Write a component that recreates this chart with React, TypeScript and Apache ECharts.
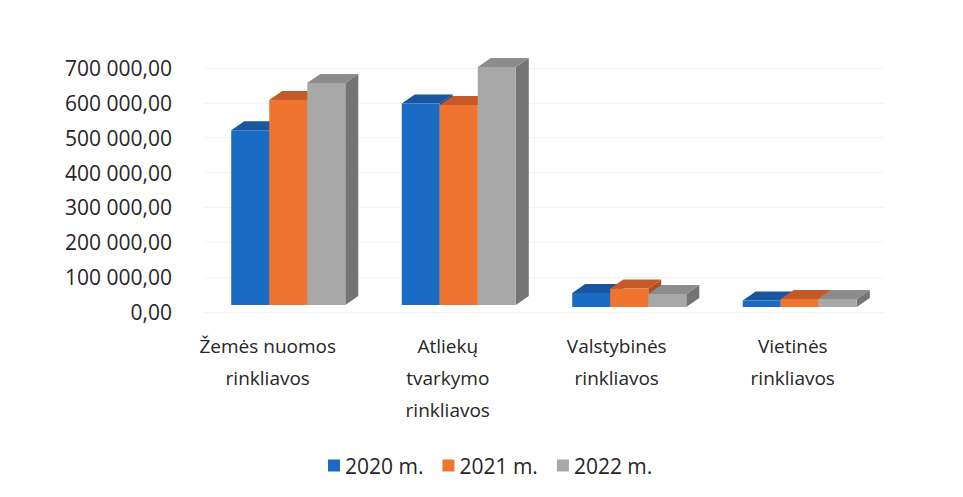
import React, { useEffect, useRef } from "react";
import * as echarts from "echarts";

const categories = [
  "Žemės nuomos\nrinkliavos",
  "Atliekų\ntvarkymo\nrinkliavos",
  "Valstybinės\nrinkliavos",
  "Vietinės\nrinkliavos",
];
const seriesNames = ["2020 m.", "2021 m.", "2022 m."];
const values2020 = [501000, 578000, 40000, 19000];
const values2021 = [588000, 574000, 53000, 23000];
const values2022 = [637000, 683000, 37000, 23000];
const yTicks = [0, 100000, 200000, 300000, 400000, 500000, 600000, 700000];

const FRONT = ["#1b6bc4", "#ef7430", "#a8a8a8"];
const TOP = ["#1a56a0", "#c45a28", "#8c8c8c"];
const SIDE = ["#154a8c", "#b04f22", "#747474"];

const FONT = "'Open Sans', sans-serif";
const TEXT = "#262626";

function fmt(v: number) {
  const s = Math.round(v).toString().replace(/\B(?=(\d{3})+(?!\d))/g, " ");
  return s + ",00";
}

export default function App() {
  const ref = useRef<HTMLDivElement>(null);
  useEffect(() => {
    if (!ref.current) return;
    const chart = echarts.init(ref.current, null, { renderer: "svg" });
    const all = [values2020, values2021, values2022];
    const renderItem = (params: any, api: any) => {
      const cat = api.value(0);
      const v = api.value(1);
      const base = api.coord([cat, 0]);
      const top = api.coord([cat, v]);
      const band = api.size([1, 0])[0];
      const w = band * 0.223;
      const s = params.seriesIndex;
      const x0 = base[0] + (s - 1.5) * w;
      const lift = cat >= 2 ? 5 : 7;
      const yb = base[1] - lift;
      const yt = top[1] - lift;
      const dx = 13;
      const dy = 9;
      return {
        type: "group",
        children: [
          {
            type: "polygon",
            shape: {
              points: [
                [x0 + w, yt],
                [x0 + w + dx, yt - dy],
                [x0 + w + dx, yb - dy],
                [x0 + w, yb],
              ],
            },
            style: { fill: SIDE[s] },
          },
          {
            type: "polygon",
            shape: {
              points: [
                [x0, yt],
                [x0 + dx, yt - dy],
                [x0 + w + dx, yt - dy],
                [x0 + w, yt],
              ],
            },
            style: { fill: TOP[s] },
          },
          {
            type: "rect",
            shape: { x: x0, y: yt, width: w, height: yb - yt },
            style: { fill: FRONT[s] },
          },
        ],
      };
    };
    const labelShift = [41, 22, 25, 14];
    const rich: any = {};
    labelShift.forEach((p, i) => {
      rich["c" + i] = {
        fontFamily: FONT,
        fontSize: 19,
        color: TEXT,
        lineHeight: 32,
        padding: [0, p, 0, 0],
      };
    });
    chart.setOption({
      animation: false,
      backgroundColor: "#ffffff",
      grid: { left: 203, right: 78, top: 68, bottom: 185, containLabel: false },
      legend: {
        data: seriesNames,
        left: 323,
        top: 450,
        icon: "rect",
        itemWidth: 12,
        itemHeight: 12,
        itemGap: 19,
        textStyle: { fontFamily: FONT, fontSize: 21, color: TEXT },
      },
      xAxis: {
        type: "category",
        data: categories,
        axisLine: { show: false },
        axisTick: { show: false },
        axisLabel: {
          margin: 18,
          interval: 0,
          formatter: (value: string, index: number) =>
            value
              .split("\n")
              .map((l) => `{c${index}|${l}}`)
              .join("\n"),
          rich,
        },
      },
      yAxis: {
        type: "value",
        min: yTicks[0],
        max: yTicks[yTicks.length - 1],
        interval: yTicks[1] - yTicks[0],
        axisLine: { show: false },
        axisTick: { show: false },
        splitLine: { lineStyle: { color: "#f4f4f4" } },
        axisLabel: {
          margin: 31,
          fontFamily: FONT,
          fontSize: 21,
          color: TEXT,
          formatter: (v: number) => fmt(v),
        },
      },
      series: all.map((vals, s) => ({
        type: "custom",
        name: seriesNames[s],
        itemStyle: { color: FRONT[s] },
        renderItem,
        encode: { x: 0, y: 1 },
        data: vals.map((v, i) => [i, v]),
      })),
    });
    return () => chart.dispose();
  }, []);
  return (
    <div
      ref={ref}
      style={{ position: "fixed", left: 0, top: 0, width: 963, height: 497 }}
    />
  );
}
